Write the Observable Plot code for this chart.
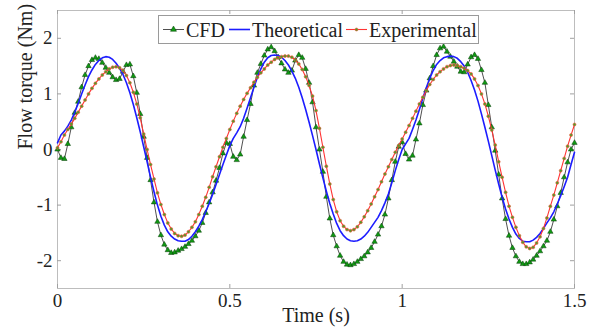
<!DOCTYPE html>
<html><head><meta charset="utf-8">
<script src="https://cdn.jsdelivr.net/npm/d3@7"></script>
<script src="https://cdn.jsdelivr.net/npm/@observablehq/plot@0.6"></script>
<style>body{margin:0;background:#fff} svg{display:block}</style>
</head><body><div id="chart"></div>
<script>
// Series sampled every 0.01 s from 0 to 1.5 s (151 points)
const cfd = [
 0.00,-0.15,-0.17,0.10,0.40,0.66,0.86,1.12,1.34,1.50,
 1.61,1.65,1.63,1.56,1.47,1.38,1.30,1.25,1.27,1.40,
 1.52,1.53,1.32,1.02,0.64,0.23,-0.15,-0.55,-0.95,-1.30,
 -1.54,-1.71,-1.81,-1.86,-1.85,-1.82,-1.79,-1.75,-1.70,-1.64,
 -1.56,-1.46,-1.32,-1.14,-0.95,-0.77,-0.56,-0.33,-0.07,0.12,
 0.10,-0.13,-0.19,-0.09,0.23,0.53,0.82,1.15,1.38,1.54,
 1.69,1.80,1.84,1.77,1.66,1.55,1.44,1.38,1.42,1.60,
 1.70,1.65,1.45,1.20,0.85,0.40,0.00,-0.40,-0.85,-1.24,
 -1.54,-1.74,-1.91,-2.02,-2.07,-2.08,-2.06,-2.02,-1.97,-1.92,
 -1.85,-1.77,-1.66,-1.53,-1.38,-1.17,-0.88,-0.55,-0.22,0.05,
 0.13,-0.08,-0.18,-0.11,0.18,0.47,0.80,1.06,1.28,1.50,
 1.70,1.82,1.85,1.76,1.67,1.58,1.49,1.40,1.39,1.53,
 1.66,1.70,1.63,1.43,1.20,0.80,0.40,-0.02,-0.45,-0.88,
 -1.25,-1.55,-1.77,-1.92,-2.02,-2.06,-2.06,-2.03,-1.98,-1.91,
 -1.83,-1.74,-1.64,-1.48,-1.26,-1.02,-0.78,-0.50,-0.23,0.00,
 0.12
];
const theoretical = [
 0.12,0.26,0.33,0.42,0.53,0.67,0.83,1.00,1.16,1.31,
 1.43,1.53,1.60,1.65,1.67,1.66,1.62,1.55,1.46,1.35,
 1.20,1.02,0.81,0.57,0.32,0.05,-0.22,-0.50,-0.76,-1.00,
 -1.20,-1.36,-1.48,-1.56,-1.61,-1.64,-1.65,-1.65,-1.62,-1.56,
 -1.48,-1.38,-1.26,-1.12,-0.97,-0.81,-0.63,-0.45,-0.27,-0.10,
 0.07,0.20,0.30,0.41,0.56,0.74,0.93,1.12,1.30,1.45,
 1.57,1.65,1.69,1.70,1.69,1.66,1.60,1.52,1.41,1.28,
 1.12,0.93,0.72,0.49,0.25,0.00,-0.26,-0.51,-0.75,-0.97,
 -1.16,-1.33,-1.46,-1.55,-1.61,-1.64,-1.65,-1.64,-1.61,-1.56,
 -1.49,-1.40,-1.31,-1.22,-1.10,-0.96,-0.80,-0.60,-0.38,-0.18,
 0.00,0.10,0.20,0.36,0.53,0.72,0.92,1.11,1.28,1.42,
 1.53,1.60,1.65,1.67,1.68,1.67,1.64,1.58,1.50,1.39,
 1.24,1.07,0.87,0.64,0.40,0.15,-0.11,-0.37,-0.62,-0.86,
 -1.07,-1.25,-1.40,-1.52,-1.60,-1.65,-1.66,-1.66,-1.63,-1.58,
 -1.51,-1.42,-1.32,-1.23,-1.12,-0.98,-0.83,-0.67,-0.50,-0.27,
 -0.05
];
const experimental = [
 0.03,0.14,0.26,0.36,0.46,0.56,0.67,0.78,0.89,1.00,
 1.10,1.19,1.27,1.34,1.40,1.45,1.48,1.49,1.47,1.42,
 1.33,1.20,1.03,0.82,0.57,0.28,0.00,-0.27,-0.53,-0.78,
 -0.99,-1.17,-1.32,-1.43,-1.51,-1.55,-1.56,-1.54,-1.48,-1.40,
 -1.30,-1.17,-1.02,-0.86,-0.68,-0.49,-0.31,-0.13,0.04,0.20,
 0.36,0.51,0.65,0.78,0.90,1.01,1.11,1.21,1.30,1.38,
 1.45,1.52,1.57,1.62,1.65,1.67,1.68,1.68,1.66,1.61,
 1.54,1.44,1.31,1.15,0.96,0.70,0.38,0.04,-0.30,-0.62,
 -0.90,-1.12,-1.28,-1.38,-1.44,-1.46,-1.44,-1.39,-1.31,-1.21,
 -1.10,-0.98,-0.85,-0.72,-0.58,-0.44,-0.31,-0.18,-0.05,0.07,
 0.19,0.31,0.43,0.56,0.69,0.82,0.94,1.06,1.17,1.26,
 1.34,1.40,1.45,1.49,1.51,1.52,1.51,1.49,1.46,1.42,
 1.36,1.27,1.15,1.00,0.82,0.60,0.35,0.08,-0.22,-0.50,
 -0.77,-1.02,-1.22,-1.40,-1.55,-1.67,-1.75,-1.78,-1.76,-1.68,
 -1.57,-1.42,-1.23,-1.02,-0.82,-0.60,-0.38,-0.16,0.06,0.26,
 0.45
];
const sampleStep = 0.01;
const xTicks = [0, 0.5, 1, 1.5];
const xTickLabels = ["0", "0.5", "1", "1.5"];
const yTicks = [-2, -1, 0, 1, 2];
const yTickLabels = ["-2", "-1", "0", "1", "2"];
const seriesNames = ["CFD", "Theoretical", "Experimental"];
const xTitle = "Time (s)";
const yTitle = "Flow torque (Nm)";

const rows = cfd.map((v, i) => ({t: Math.round(i * sampleStep * 100) / 100, cfd: v, theo: theoretical[i], exp: experimental[i]}));

const W = 599, H = 333, mL = 57, mR = 25, mT = 10, mB = 45;
const plotH = H - mT - mB, plotW = W - mL - mR;
const FONT = "'Liberation Serif', 'Times New Roman', serif";
const cfdGreen = "#0f9a12", cfdEdge = "#0b3d0b";
const expFill = "#4f9b2a", expEdge = "#f5583a", expLine = "#ff3333", theoBlue = "#1c1cff";

const chart = Plot.plot({
  width: W, height: H,
  marginLeft: mL, marginRight: mR, marginTop: mT, marginBottom: mB,
  style: {fontFamily: FONT, fontSize: "19px", color: "#222", background: "#fff"},
  x: {domain: [0, 1.5]},
  y: {domain: [-2.5, 2.5]},
  marks: [
    Plot.frame({stroke: "#bdbdbd"}),
    Plot.tickX(xTicks, {x: d => d, insetTop: plotH - 4, stroke: "#a0a0a0"}),
    Plot.tickX(xTicks, {x: d => d, insetBottom: plotH - 4, stroke: "#a0a0a0"}),
    Plot.tickY(yTicks, {y: d => d, insetRight: plotW - 4, stroke: "#a0a0a0"}),
    Plot.tickY(yTicks, {y: d => d, insetLeft: plotW - 4, stroke: "#a0a0a0"}),
    Plot.axisX({ticks: xTicks, tickSize: 0, tickPadding: 5, tickFormat: d => xTickLabels[xTicks.indexOf(d)], label: null, fontSize: 19, fontFamily: FONT, fontVariant: "normal"}),
    Plot.axisY({ticks: yTicks, tickSize: 0, tickPadding: 5, tickFormat: d => yTickLabels[yTicks.indexOf(d)], label: null, fontSize: 19, fontFamily: FONT, fontVariant: "normal"}),
    Plot.line(rows, {x: "t", y: "cfd", stroke: "#222", strokeWidth: 0.8}),
    Plot.dot(rows, {x: "t", y: "cfd", symbol: "triangle", r: 2.0, fill: cfdGreen, stroke: cfdEdge, strokeWidth: 0.5}),
    Plot.line(rows, {x: "t", y: "theo", stroke: theoBlue, strokeWidth: 1.6}),
    Plot.line(rows, {x: "t", y: "exp", stroke: expLine, strokeWidth: 1.1}),
    Plot.dot(rows, {x: "t", y: "exp", r: 1.5, fill: expFill, stroke: expEdge, strokeWidth: 0.6}),
    Plot.text([xTitle], {frameAnchor: "bottom", dy: 33, fontSize: 20, fill: "#222", fontFamily: FONT}),
    Plot.text([yTitle], {frameAnchor: "left", dx: -32, rotate: -90, fontSize: 20, fill: "#222", fontFamily: FONT})
  ]
});
document.getElementById("chart").appendChild(chart);

// Legend box (inside the plot, top)
const svg = d3.select(chart);
const lg = svg.append("g").attr("font-family", FONT).attr("font-size", 20).attr("fill", "#222").attr("text-anchor", "start");
lg.append("rect").attr("x", 158.5).attr("y", 15.5).attr("width", 320).attr("height", 28)
  .attr("fill", "#fff").attr("stroke", "#9a9a9a");
const ly = 29.5;
const items = [
  {name: seriesNames[0], x0: 163, tx: 186, stroke: "#222", sw: 0.8, marker: "tri"},
  {name: seriesNames[1], x0: 229, tx: 252, stroke: theoBlue, sw: 1.6, marker: null},
  {name: seriesNames[2], x0: 346, tx: 369, stroke: expLine, sw: 1.1, marker: "dot"}
];
for (const it of items) {
  lg.append("line").attr("x1", it.x0).attr("x2", it.x0 + 21).attr("y1", ly).attr("y2", ly)
    .attr("stroke", it.stroke).attr("stroke-width", it.sw);
  const cx = it.x0 + 10.5;
  if (it.marker === "tri") {
    lg.append("path").attr("d", d3.symbol(d3.symbolTriangle, 16)()).attr("transform", `translate(${cx},${ly})`)
      .attr("fill", cfdGreen).attr("stroke", cfdEdge).attr("stroke-width", 0.5);
  } else if (it.marker === "dot") {
    lg.append("circle").attr("cx", cx).attr("cy", ly).attr("r", 1.5)
      .attr("fill", expFill).attr("stroke", expEdge).attr("stroke-width", 0.6);
  }
  lg.append("text").attr("x", it.tx).attr("y", ly).attr("dy", "0.35em").attr("text-anchor", "start").text(it.name);
}
</script>
</body></html>
